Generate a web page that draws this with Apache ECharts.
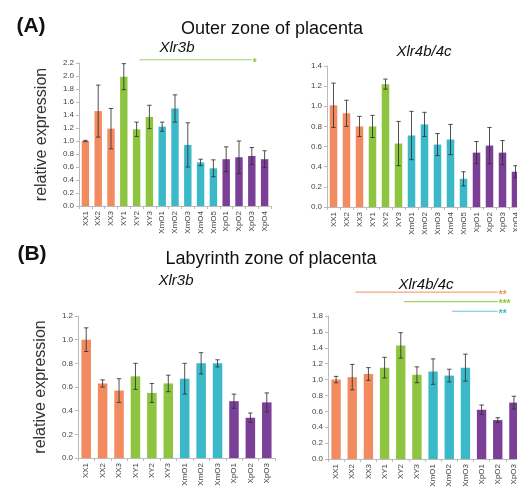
<!DOCTYPE html>
<html><head><meta charset="utf-8">
<script src="https://cdn.jsdelivr.net/npm/echarts@6/dist/echarts.min.js"></script>
<style>html,body{margin:0;padding:0;background:#fff}#c{width:517px;height:488px}</style>
</head><body><div id="c"></div>
<script>
// ---- data ----
const catsA = ['XX1','XX2','XX3','XY1','XY2','XY3','XmO1','XmO2','XmO3','XmO4','XmO5','XpO1','XpO2','XpO3','XpO4'];
const groupsA = [0,0,0,1,1,1,2,2,2,2,2,3,3,3,3];
const catsB = ['XX1','XX2','XX3','XY1','XY2','XY3','XmO1','XmO2','XmO3','XpO1','XpO2','XpO3'];
const groupsB = [0,0,0,1,1,1,2,2,2,3,3,3];

const outerXlr3b = [1.00,1.46,1.19,1.99,1.18,1.37,1.22,1.50,0.94,0.67,0.58,0.72,0.75,0.77,0.72];
const outerXlr3bErr = [0.01,0.40,0.31,0.20,0.11,0.18,0.07,0.21,0.34,0.05,0.13,0.19,0.25,0.13,0.13];
const outerXlr4b = [1.01,0.93,0.80,0.80,1.22,0.63,0.71,0.82,0.62,0.67,0.28,0.54,0.61,0.54,0.35];
const outerXlr4bErr = [0.22,0.13,0.10,0.11,0.05,0.22,0.24,0.12,0.11,0.15,0.07,0.11,0.18,0.12,0.06];
const labXlr3b = [1.00,0.63,0.57,0.69,0.55,0.63,0.67,0.80,0.80,0.48,0.34,0.47];
const labXlr3bErr = [0.10,0.03,0.10,0.11,0.08,0.07,0.13,0.09,0.03,0.06,0.04,0.08];
const labXlr4b = [1.00,1.03,1.07,1.15,1.43,1.06,1.10,1.05,1.15,0.62,0.49,0.71];
const labXlr4bErr = [0.04,0.16,0.08,0.13,0.16,0.10,0.16,0.08,0.17,0.06,0.03,0.08];

const yMax = [2.2, 1.4, 1.2, 1.8];
const groupColors = ['#f28c60','#8dc540','#3cb9c9','#7c3f98'];
// significance annotations: [panel, fromCat, toCat, yValue, stars, colorIndex]
const sigLines = [
  [0, 'XY2', 'XpO3', 2.25, '*', 1],
  [3, 'XX2', 'XpO2', 2.10, '**', 0],
  [3, 'XY2', 'XpO2', 1.98, '***', 1],
  [3, 'XmO2', 'XpO2', 1.86, '**', 2]
];

const FONT = 'Liberation Sans, Arial, sans-serif';
const chart = echarts.init(document.getElementById('c'));

const grids = [
  {left:79, top:63, width:192, height:143},
  {left:327, top:66, width:195, height:141},
  {left:78, top:316, width:197, height:142},
  {left:328, top:316, width:194, height:143}
];
const panels = [
  {cats:catsA, groups:groupsA, vals:outerXlr3b, errs:outerXlr3bErr},
  {cats:catsA, groups:groupsA, vals:outerXlr4b, errs:outerXlr4bErr},
  {cats:catsB, groups:groupsB, vals:labXlr3b, errs:labXlr3bErr},
  {cats:catsB, groups:groupsB, vals:labXlr4b, errs:labXlr4bErr}
];

const xAxis = panels.map((p,i)=>({
  type:'category', gridIndex:i, data:p.cats,
  axisLine:{lineStyle:{color:'#bbb'}},
  axisTick:{show:true, length:3, lineStyle:{color:'#bbb'}},
  axisLabel:{rotate:90, interval:0, fontSize:8, color:'#444', margin:5, fontFamily:FONT}
}));
const yAxis = panels.map((p,i)=>({
  type:'value', gridIndex:i, min:0, max:yMax[i], interval:0.2,
  splitLine:{show:false},
  axisLine:{show:true, lineStyle:{color:'#bbb'}},
  axisTick:{show:true, length:3, lineStyle:{color:'#bbb'}},
  axisLabel:{fontSize:8, color:'#444', margin:5, fontFamily:FONT, formatter:v=>v.toFixed(1)},
  name:(i%2===0)?'relative expression':'', nameLocation:'middle', nameGap:29,
  nameTextStyle:{fontSize:16, color:'#333', fontFamily:FONT}
}));

const series = [];
panels.forEach((p,i)=>{
  series.push({
    type:'bar', xAxisIndex:i, yAxisIndex:i, barWidth:'58%',
    data:p.vals.map((v,k)=>({value:v, itemStyle:{color:groupColors[p.groups[k]]}}))
  });
  series.push({
    type:'custom', xAxisIndex:i, yAxisIndex:i, z:10,
    encode:{x:0, y:1},
    data:p.vals.map((v,k)=>[k, v, p.errs[k]]),
    renderItem:(params, api)=>{
      const x=api.value(0), m=api.value(1), e=api.value(2);
      const t=api.coord([x,m+e]), b=api.coord([x,m-e]);
      const hw=2.2, st={stroke:'#333', lineWidth:1, opacity:0.85};
      return {type:'group', children:[
        {type:'line', shape:{x1:t[0],y1:t[1],x2:b[0],y2:b[1]}, style:st},
        {type:'line', shape:{x1:t[0]-hw,y1:t[1],x2:t[0]+hw,y2:t[1]}, style:st},
        {type:'line', shape:{x1:b[0]-hw,y1:b[1],x2:b[0]+hw,y2:b[1]}, style:st}
      ]};
    }
  });
});

function txt(x,y,text,size,opts){
  return Object.assign({type:'text', x:x, y:y, silent:true,
    style:{text:text, fontSize:size, fontFamily:FONT, fill:'#111', align:'center', verticalAlign:'middle'}}, opts||{});
}
const texts = [
  txt(31,26,'(A)',21,{style:{text:'(A)',fontSize:21,fontWeight:'bold',fontFamily:FONT,fill:'#111',align:'center',verticalAlign:'middle'}}),
  txt(32,254,'(B)',21,{style:{text:'(B)',fontSize:21,fontWeight:'bold',fontFamily:FONT,fill:'#111',align:'center',verticalAlign:'middle'}}),
  txt(272,29,'Outer zone of placenta',18),
  txt(271,259,'Labyrinth zone of placenta',18),
  txt(177,48,'Xlr3b',15,{style:{text:'Xlr3b',fontSize:15,fontStyle:'italic',fontFamily:FONT,fill:'#111',align:'center',verticalAlign:'middle'}}),
  txt(424,52,'Xlr4b/4c',15,{style:{text:'Xlr4b/4c',fontSize:15,fontStyle:'italic',fontFamily:FONT,fill:'#111',align:'center',verticalAlign:'middle'}}),
  txt(176,281,'Xlr3b',15,{style:{text:'Xlr3b',fontSize:15,fontStyle:'italic',fontFamily:FONT,fill:'#111',align:'center',verticalAlign:'middle'}}),
  txt(426,285,'Xlr4b/4c',15,{style:{text:'Xlr4b/4c',fontSize:15,fontStyle:'italic',fontFamily:FONT,fill:'#111',align:'center',verticalAlign:'middle'}})
];

chart.setOption({
  animation:false,
  grid:grids.map(g=>Object.assign({outerBoundsMode:'none', containLabel:false}, g)),
  xAxis:xAxis, yAxis:yAxis, series:series
});

const lineGraphics = [];
sigLines.forEach(s=>{
  const [pi, c0, c1, yv, stars, ci] = s;
  const a = chart.convertToPixel({xAxisIndex:pi, yAxisIndex:pi}, [c0, yv]);
  const b = chart.convertToPixel({xAxisIndex:pi, yAxisIndex:pi}, [c1, yv]);
  const col = groupColors[ci];
  lineGraphics.push({type:'line', silent:true, shape:{x1:a[0]+3,y1:a[1],x2:b[0],y2:b[1]}, style:{stroke:col, lineWidth:1.2, opacity:0.8}});
  lineGraphics.push({type:'text', silent:true, x:b[0]+1, y:b[1]+3,
    style:{text:stars, fontSize:10, fontWeight:'bold', fill:col, align:'left', verticalAlign:'middle', fontFamily:FONT}});
});

chart.setOption({graphic:texts.concat(lineGraphics)});
</script>
</body></html>
